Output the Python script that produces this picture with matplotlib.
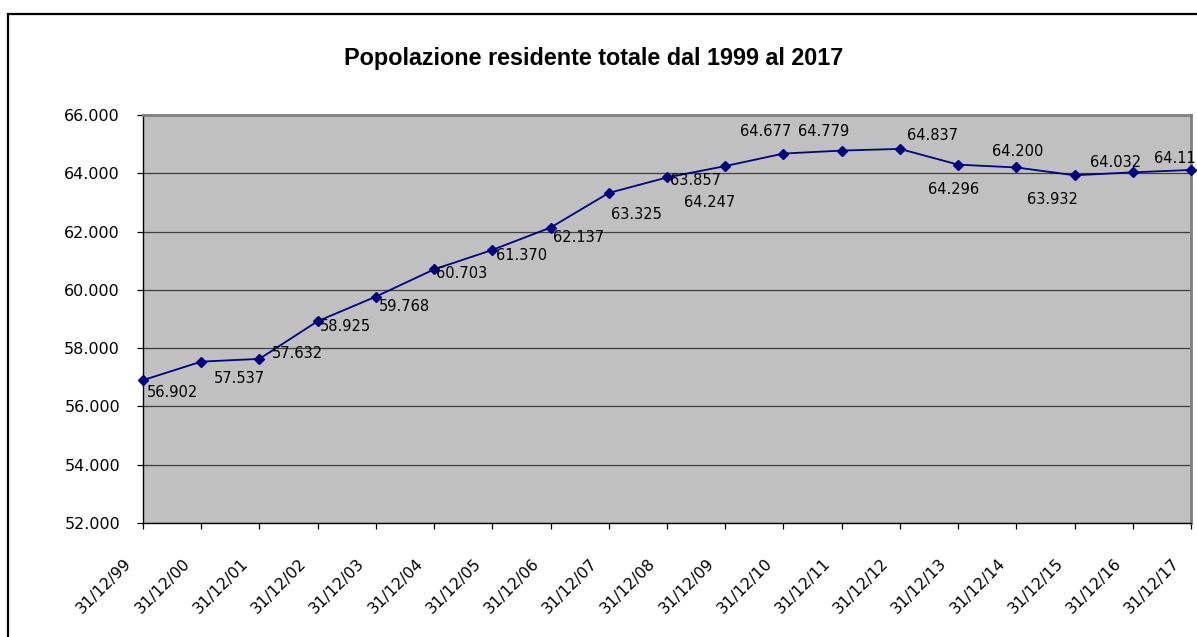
import matplotlib
matplotlib.use("Agg")
import matplotlib.pyplot as plt
from matplotlib.patches import Rectangle
from matplotlib.transforms import ScaledTranslation

categories = ["31/12/99", "31/12/00", "31/12/01", "31/12/02", "31/12/03", "31/12/04",
              "31/12/05", "31/12/06", "31/12/07", "31/12/08", "31/12/09", "31/12/10",
              "31/12/11", "31/12/12", "31/12/13", "31/12/14", "31/12/15", "31/12/16",
              "31/12/17"]
popolazione = [56902, 57537, 57632, 58925, 59768, 60703, 61370, 62137, 63325, 63857,
               64247, 64677, 64779, 64837, 64296, 64200, 63932, 64032, 64115]
y_ticks = [52000, 54000, 56000, 58000, 60000, 62000, 64000, 66000]

# label offsets (pixels) of the data labels, relative to each point (layout only)
label_offsets = [(29, -12), (38, -17), (38, 5), (28, -5), (28, -10), (28, -4),
                 (29, -6), (28, -10), (28, -22), (29, -3), (-16, -36), (-18, 22),
                 (-18, 19), (33, 13), (-5, -25), (1, 16), (-22, -24), (-17, 10),
                 (-11, 11)]

def fmt(v):
    return f"{v:,}".replace(",", ".")

W, H = 1197, 637
fig = plt.figure(figsize=(W / 100, H / 100), dpi=100)
fig.patch.set_facecolor("white")

ax = fig.add_axes([143 / W, 1 - 523 / H, (1191 - 143) / W, (523 - 115) / H])
ax.set_facecolor("#C0C0C0")

x = list(range(len(categories)))
ax.plot(x, popolazione, color="#000080", lw=1.3, marker="D", markersize=5.5,
        markerfacecolor="#000080", markeredgecolor="#000080", clip_on=False, zorder=3)

for xi, v, (dx, dy) in zip(x, popolazione, label_offsets):
    ax.annotate(fmt(v), (xi, v), xytext=(dx, dy), textcoords="offset pixels",
                ha="center", va="center", fontsize=10.5, color="black",
                family="DejaVu Sans", annotation_clip=False, zorder=4)

ax.set_xlim(0, len(categories) - 1)
ax.set_ylim(52000, 66000)
ax.set_yticks(y_ticks)
ax.set_yticklabels([fmt(t) for t in y_ticks], fontsize=11.5)
ax.set_xticks(x)
ax.set_xticklabels(categories, fontsize=11.3, rotation=45, ha="right", va="top",
                   rotation_mode="anchor")
ax.yaxis.grid(True, color="#404040", lw=0.9)
ax.set_axisbelow(True)
ax.tick_params(axis="y", direction="out", length=4.5, width=0.9, pad=12, colors="black")
ax.tick_params(axis="x", direction="out", length=4.5, width=0.9, pad=19, colors="black")
for lab in ax.get_xticklabels():
    lab.set_transform(lab.get_transform() + ScaledTranslation(-0.19, 0, fig.dpi_scale_trans))

for s in ["left", "bottom"]:
    ax.spines[s].set_color("black")
    ax.spines[s].set_linewidth(1.0)
for s in ["top", "right"]:
    ax.spines[s].set_color("#808080")
    ax.spines[s].set_linewidth(2.0)

fig.text(594 / W, 1 - 59 / H, "Popolazione residente totale dal 1999 al 2017",
         ha="center", va="center", fontsize=16.8, fontweight="bold", family="Liberation Sans")

fig.add_artist(Rectangle((8 / W, -0.1), 1.2, 1 - 14 / H + 0.1, transform=fig.transFigure,
                         fill=False, edgecolor="black", lw=1.6))

fig.savefig("out.png", dpi=100)
